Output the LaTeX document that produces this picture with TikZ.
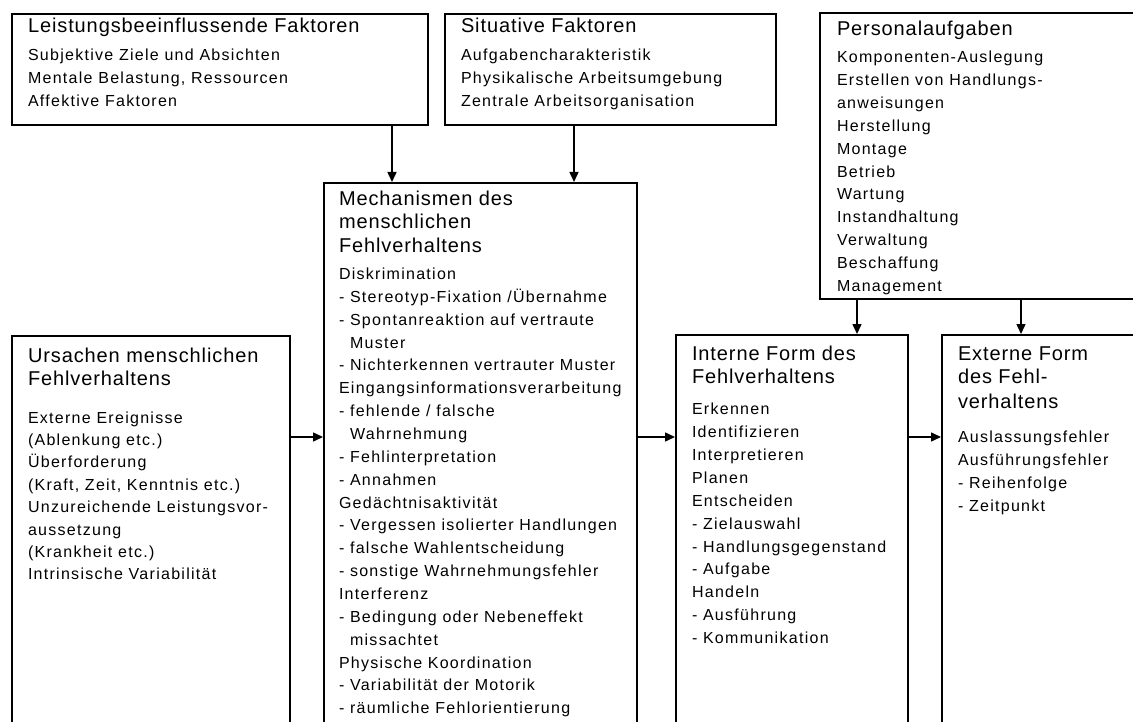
\documentclass[tikz,border=0pt]{standalone}
\usepackage{fontspec}
\setmainfont{Liberation Sans}
\newfontfamily\headfont{Liberation Sans}[LetterSpace=4.5]
\newfontfamily\bodyfont{Liberation Sans}[LetterSpace=8]
\usetikzlibrary{arrows.meta}

\tikzset{
  frame/.style={draw, line width=1.6pt, inner sep=0pt, anchor=north west},
  txt/.style={inner sep=0pt, outer sep=0pt, anchor=north west, align=left,
              font=\bodyfont\fontsize{16}{22.85}\selectfont},
  arr/.style={line width=1.5pt, -{Triangle[length=10pt,width=9pt]}},
}
\newcommand\hd[1]{{\headfont\fontsize{20}{24}\selectfont #1}}
\newcommand\hdstrut{\rule{0pt}{16pt}}
\newcommand\dash{\phantom{- }}

\begin{document}
\begin{tikzpicture}[x=1pt, y=-1pt]
  \clip (0,0) rectangle (1133,722);
  \fill[white] (0,0) rectangle (1133,722);

  % frames
  \node[frame, minimum width=416pt, minimum height=111pt] (lf)   at (11,13)  {};
  \node[frame, minimum width=331pt, minimum height=111pt] (sit)  at (444,13) {};
  \node[frame, minimum width=400pt, minimum height=286pt] (pers) at (819,12) {};
  \node[frame, minimum width=313pt, minimum height=600pt] (mech) at (323,182) {};
  \node[frame, minimum width=278pt, minimum height=450pt] (urs)  at (11,335) {};
  \node[frame, minimum width=232pt, minimum height=450pt] (int)  at (675,334) {};
  \node[frame, minimum width=300pt, minimum height=450pt] (ext)  at (941,334) {};

  % texts
  \node[txt] (lfT) at (28,17) {\hdstrut\hd{Leistungsbeeinflussende Faktoren}\\[5pt]
    Subjektive Ziele und Absichten\\
    Mentale Belastung, Ressourcen\\
    Affektive Faktoren};

  \node[txt] (sitT) at (461,17) {\hdstrut\hd{Situative Faktoren}\\[5pt]
    Aufgabencharakteristik\\
    Physikalische Arbeitsumgebung\\
    Zentrale Arbeitsorganisation};

  \node[txt] (persT) at (837,19) {\hdstrut\hd{Personalaufgaben}\\[5pt]
    Komponenten-Auslegung\\
    Erstellen von Handlungs-\\
    anweisungen\\
    Herstellung\\
    Montage\\
    Betrieb\\
    Wartung\\
    Instandhaltung\\
    Verwaltung\\
    Beschaffung\\
    Management};

  \node[txt] (mechT) at (339,189) {\hdstrut\hd{Mechanismen des}\\[1pt]
    \hd{menschlichen}\\[1pt]
    \hd{Fehlverhaltens}\\[4pt]
    Diskrimination\\
    - Stereotyp-Fixation /Übernahme\\
    - Spontanreaktion auf vertraute\\
    \dash Muster\\
    - Nichterkennen vertrauter Muster\\
    Eingangsinformationsverarbeitung\\
    - fehlende / falsche\\
    \dash Wahrnehmung\\
    - Fehlinterpretation\\
    - Annahmen\\
    Gedächtnisaktivität\\
    - Vergessen isolierter Handlungen\\
    - falsche Wahlentscheidung\\
    - sonstige Wahrnehmungsfehler\\
    Interferenz\\
    - Bedingung oder Nebeneffekt\\
    \dash missachtet\\
    Physische Koordination\\
    - Variabilität der Motorik\\
    - räumliche Fehlorientierung};

  \node[txt, font=\bodyfont\fontsize{16}{22.4}\selectfont] (ursT) at (28,346)
    {\hdstrut\hd{Ursachen menschlichen}\\[0.6pt]
    \hd{Fehlverhaltens}\\[15.6pt]
    Externe Ereignisse\\
    (Ablenkung etc.)\\
    Überforderung\\
    (Kraft, Zeit, Kenntnis etc.)\\
    Unzureichende Leistungsvor-\\
    aussetzung\\
    (Krankheit etc.)\\
    Intrinsische Variabilität};

  \node[txt] (intT) at (692,344) {\hdstrut\hd{Interne Form des}\\[0.2pt]
    \hd{Fehlverhaltens}\\[9pt]
    Erkennen\\
    Identifizieren\\
    Interpretieren\\
    Planen\\
    Entscheiden\\
    - Zielauswahl\\
    - Handlungsgegenstand\\
    - Aufgabe\\
    Handeln\\
    - Ausführung\\
    - Kommunikation};

  \node[txt] (extT) at (958,344) {\hdstrut\hd{Externe Form}\\[0.2pt]
    \hd{des Fehl-}\\[3pt]
    \hd{verhaltens}\\[11pt]
    Auslassungsfehler\\
    Ausführungsfehler\\
    - Reihenfolge\\
    - Zeitpunkt};

  % connector positions
  \coordinate (c1) at (392,0);
  \coordinate (c2) at (574,0);
  \coordinate (c3) at (857,0);
  \coordinate (c4) at (1021,0);
  \coordinate (hy) at (0,437);

  % connectors
  \draw[arr] (lf.south -| c1)   -- (mech.north -| c1);
  \draw[arr] (sit.south -| c2)  -- (mech.north -| c2);
  \draw[arr] (pers.south -| c3) -- (int.north -| c3);
  \draw[arr] (pers.south -| c4) -- (ext.north -| c4);
  \draw[arr] (urs.east |- hy)   -- (mech.west |- hy);
  \draw[arr] (mech.east |- hy)  -- (int.west |- hy);
  \draw[arr] (int.east |- hy)   -- (ext.west |- hy);
\end{tikzpicture}
\end{document}
